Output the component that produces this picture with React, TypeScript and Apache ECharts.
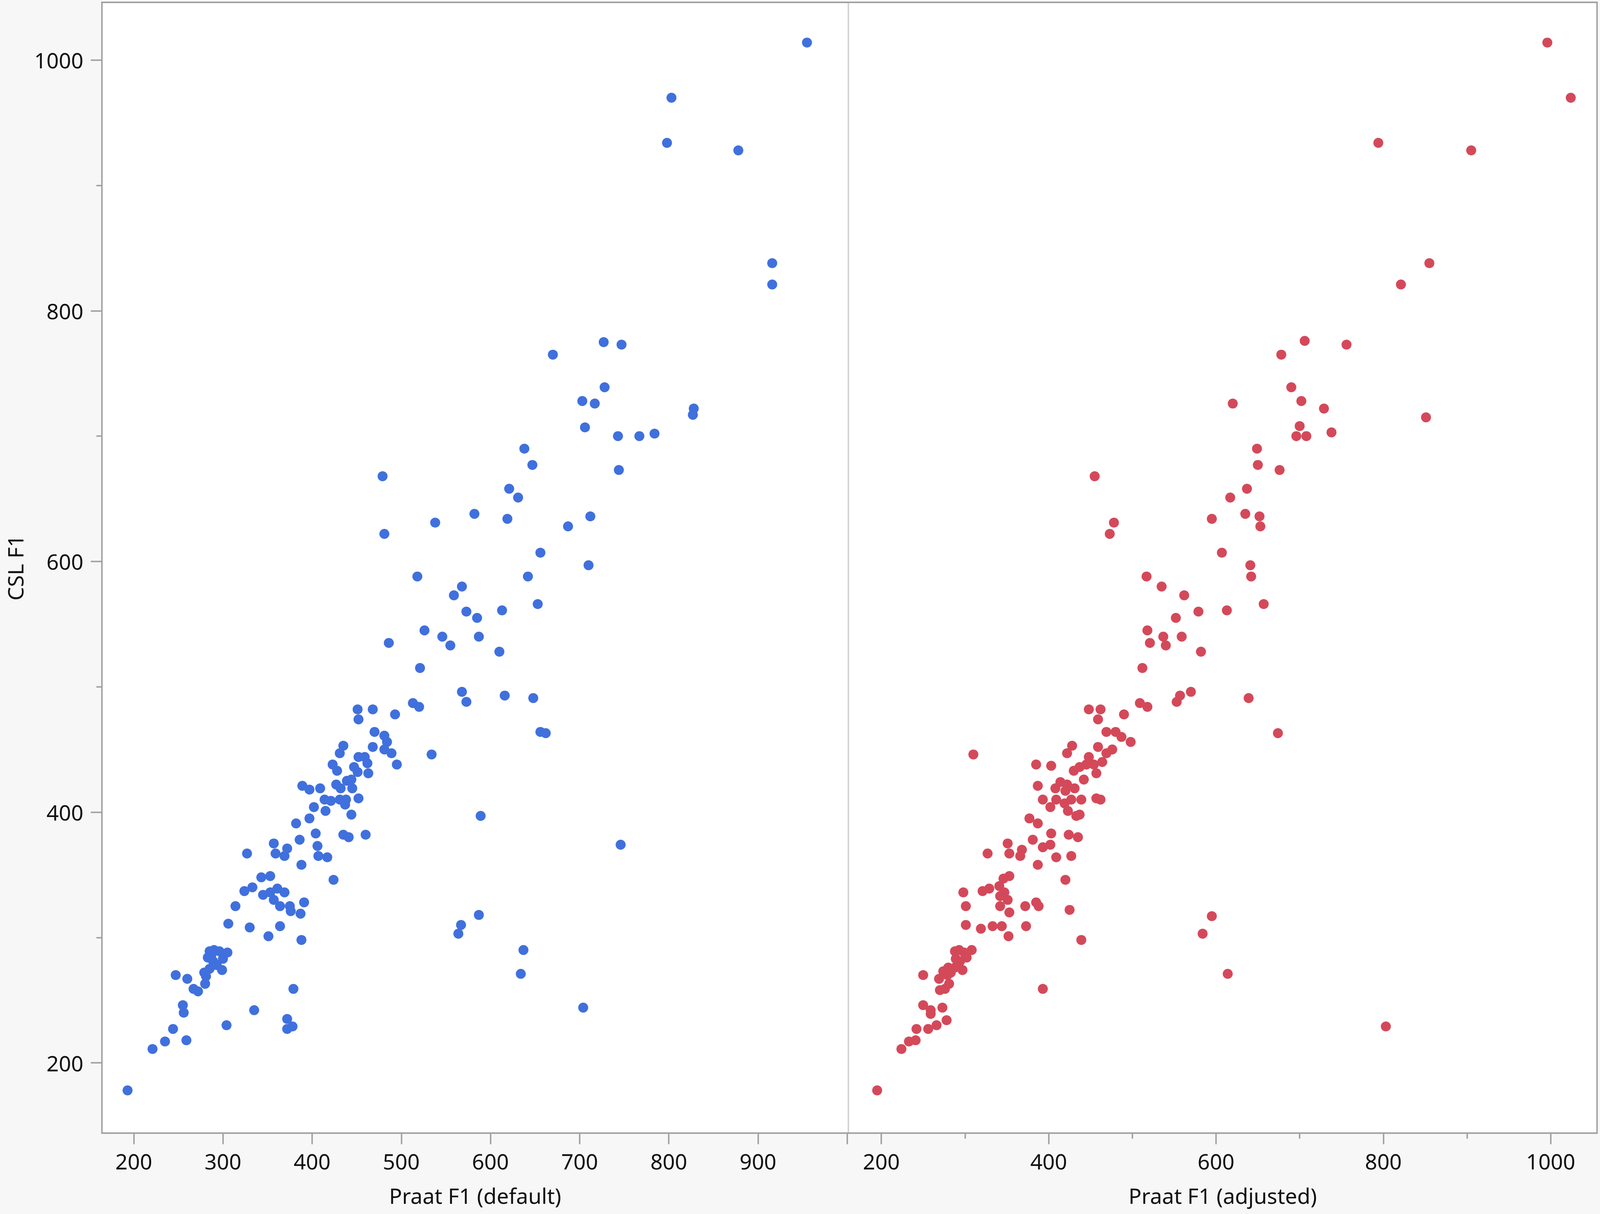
import React, { useEffect, useRef } from "react";
import * as echarts from "echarts";

// Tick values
const LEFT_X_LABELS = [200, 300, 400, 500, 600, 700, 800, 900];
const LEFT_X_TICKS = [200, 300, 400, 500, 600, 700, 800, 900, 1000];
const RIGHT_X_LABELS = [200, 400, 600, 800, 1000];
const RIGHT_X_MINOR = [300, 500, 700, 900];
const Y_LABELS = [200, 400, 600, 800, 1000];
const Y_MINOR = [300, 500, 700, 900];

// [Praat F1 (default), CSL F1]
const defaultPoints: [number, number][] = [
  [955, 1014], [803, 970], [798, 934], [878, 928], [916, 838], [916, 821], [747, 773], [727, 775], [670, 765],
  [728, 739], [703, 728], [717, 726], [828, 722], [827, 717], [706, 707],
  [743, 700], [767, 700], [784, 702], [638, 690], [647, 677], [744, 673], [479, 668], [621, 658], [631, 651],
  [582, 638], [619, 634], [538, 631], [481, 622], [687, 628], [712, 636], [656, 607], [710, 597], [642, 588],
  [518, 588], [568, 580], [559, 573], [573, 560], [585, 555], [613, 561], [653, 566], [526, 545], [546, 540],
  [555, 533], [587, 540], [610, 528], [486, 535], [521, 515], [568, 496], [573, 488], [616, 493], [648, 491],
  [513, 487], [520, 484], [468, 482], [493, 478], [656, 464], [662, 463], [470, 464], [481, 461], [484, 456],
  [468, 452], [481, 450], [489, 447], [534, 446], [495, 438],
  [589, 397], [746, 374], [587, 318], [567, 310], [564, 303], [637, 290], [634, 271], [704, 244],
  [193, 178], [221, 211], [235, 217], [244, 227], [259, 218], [256, 240], [255, 246], [304, 230], [247, 270],
  [260, 267], [267, 259], [272, 257], [280, 263], [279, 272],
  [285, 289], [290, 290], [296, 289], [300, 283], [305, 288], [283, 284], [289, 281], [293, 278], [285, 275],
  [281, 269], [299, 274], [287, 286],
  [335, 242], [379, 259], [372, 235], [378, 229], [372, 227], [306, 311], [330, 308], [351, 301], [364, 309],
  [388, 298], [314, 325], [324, 337], [333, 340], [343, 348], [353, 349], [345, 334], [353, 336], [361, 339],
  [369, 336], [357, 330], [364, 325], [375, 325], [376, 321], [387, 319], [391, 328], [327, 367], [357, 375],
  [359, 367], [369, 365], [372, 371], [388, 358], [424, 346], [382, 391], [386, 378], [397, 395], [404, 383],
  [406, 373], [407, 365], [417, 364], [389, 421], [397, 418], [409, 419], [402, 404], [414, 410], [415, 401],
  [421, 409], [431, 410], [438, 410], [437, 406], [444, 398], [452, 411], [435, 382], [441, 380], [460, 382],
  [427, 422], [432, 419], [439, 425], [444, 426], [445, 419], [423, 438], [428, 433], [431, 447], [435, 453],
  [447, 436], [452, 444], [459, 444], [462, 439], [451, 432], [463, 431], [451, 482], [452, 474],
];

// [Praat F1 (adjusted), CSL F1]
const adjustedPoints: [number, number][] = [
  [996, 1014], [1024, 970], [794, 934], [905, 928], [855, 838], [821, 821], [851, 715],
  [706, 776], [756, 773], [678, 765], [690, 739], [702, 728], [729, 722], [620, 726], [700, 708], [696, 700],
  [708, 700], [738, 703], [649, 690], [650, 677], [676, 673], [637, 658], [617, 651], [635, 638], [652, 636],
  [653, 628], [595, 634], [455, 668], [478, 631], [473, 622], [607, 607], [641, 597], [642, 588], [517, 588],
  [535, 580], [562, 573], [579, 560], [613, 561], [657, 566], [552, 555], [518, 545], [537, 540], [559, 540],
  [521, 535], [540, 533], [582, 528], [512, 515], [570, 496], [557, 493], [553, 488], [639, 491], [509, 487],
  [518, 484], [674, 463],
  [595, 317], [584, 303], [614, 271], [803, 229],
  [195, 178], [224, 211], [233, 217], [241, 218], [242, 227], [256, 227], [266, 230], [278, 234], [250, 246],
  [259, 242], [259, 239], [273, 244], [250, 270], [269, 267], [270, 258], [276, 259], [281, 263], [274, 273],
  [280, 276], [279, 270], [283, 272],
  [288, 289], [293, 290], [299, 288], [302, 284], [308, 290], [289, 283], [294, 281], [291, 278], [297, 274],
  [288, 276],
  [393, 259], [301, 310], [319, 307], [333, 309], [344, 309], [352, 301], [373, 309], [439, 298], [301, 325],
  [298, 336], [321, 337], [329, 339], [341, 341], [347, 336], [342, 333], [351, 330], [342, 325], [353, 320],
  [372, 325], [385, 328], [388, 325], [425, 322], [346, 347], [353, 349], [420, 346], [327, 367], [351, 375],
  [353, 367], [366, 365], [368, 370], [387, 358], [409, 364], [427, 365], [381, 378], [393, 372], [402, 374],
  [377, 395], [387, 391], [403, 383], [424, 382], [435, 380], [433, 397], [437, 398], [393, 410], [402, 404],
  [409, 410], [419, 407], [427, 410], [439, 410], [423, 401], [457, 411], [462, 410], [387, 421], [408, 419],
  [414, 424], [422, 422], [431, 419], [420, 417], [385, 438], [403, 437], [430, 433], [437, 436], [442, 426],
  [448, 444], [457, 431], [464, 440], [454, 438], [445, 438], [428, 453], [422, 447], [459, 452], [469, 447],
  [476, 450], [498, 456], [469, 464], [480, 464], [487, 460], [448, 482], [462, 482], [459, 474], [490, 478],
  [310, 446],
];

const FONT = "Noto Sans";
const AXIS_GRAY = "#a2a2a2";
const TEXT = "#111111";
const BLUE = "#4070dd";
const RED = "#d4495a";

const plain = (v: number) => String(v);

export default function App() {
  const ref = useRef<HTMLDivElement>(null);

  useEffect(() => {
    document.body.style.margin = "0";
    const el = ref.current;
    if (!el) return;
    const W = el.clientWidth || 4317;
    const H = el.clientHeight || 3107;
    const sx = W / 4317;
    const sy = H / 3107;
    const k = Math.min(sx, sy);

    const chart = echarts.init(el, undefined, { renderer: "svg" });

    const X = (v: number) => v * sx;
    const Y = (v: number) => v * sy;

    const labelStyle = { color: TEXT, fontSize: 58 * k, fontFamily: FONT };
    const tickStyle = { color: AXIS_GRAY, width: 4 * k };

    const left0 = X(275), div = X(2289), right0 = X(4309);
    const top0 = Y(6), bottom0 = Y(2900);

    chart.setOption({
      animation: false,
      backgroundColor: "#f7f7f7",
      textStyle: { fontFamily: FONT },
      grid: [
        { left: left0, top: top0, width: div - left0, height: bottom0 - top0, show: true, backgroundColor: "#ffffff", borderWidth: 0 },
        { left: div, top: top0, width: right0 - div, height: bottom0 - top0, show: true, backgroundColor: "#ffffff", borderWidth: 0 },
      ],
      xAxis: [
        {
          gridIndex: 0, type: "value", position: "bottom", min: 164.25, max: 1001.4,
          axisLine: { show: false }, splitLine: { show: false },
          axisTick: { show: true, length: 30 * k, lineStyle: tickStyle, customValues: LEFT_X_TICKS },
          axisLabel: { ...labelStyle, margin: 46 * k, formatter: plain, customValues: LEFT_X_LABELS },
          name: "Praat F1 (default)", nameLocation: "middle", nameGap: 139 * k,
          nameTextStyle: { ...labelStyle },
        },
        {
          gridIndex: 1, type: "value", position: "bottom", min: 160.6, max: 1055.4,
          axisLine: { show: false }, splitLine: { show: false },
          axisTick: { show: true, length: 30 * k, lineStyle: tickStyle, customValues: RIGHT_X_LABELS },
          axisLabel: { ...labelStyle, margin: 46 * k, formatter: plain, customValues: RIGHT_X_LABELS },
          name: "Praat F1 (adjusted)", nameLocation: "middle", nameGap: 139 * k,
          nameTextStyle: { ...labelStyle },
        },
        {
          gridIndex: 1, type: "value", position: "bottom", offset: 0, min: 160.6, max: 1055.4,
          axisLine: { show: false }, splitLine: { show: false },
          axisTick: { show: true, length: 15 * k, lineStyle: tickStyle, customValues: RIGHT_X_MINOR },
          axisLabel: { show: false },
        },
      ],
      yAxis: [
        {
          gridIndex: 0, type: "value", position: "left", min: 143.9, max: 1046.1,
          axisLine: { show: false }, splitLine: { show: false },
          axisTick: { show: true, length: 30 * k, lineStyle: tickStyle, customValues: Y_LABELS },
          axisLabel: { ...labelStyle, margin: 50 * k, formatter: plain, customValues: Y_LABELS },
          name: "CSL F1", nameLocation: "middle", nameGap: 205 * k, nameRotate: 90,
          nameTextStyle: { ...labelStyle },
        },
        {
          gridIndex: 0, type: "value", position: "left", offset: 0, min: 143.9, max: 1046.1,
          axisLine: { show: false }, splitLine: { show: false },
          axisTick: { show: true, length: 15 * k, lineStyle: tickStyle, customValues: Y_MINOR },
          axisLabel: { show: false },
        },
        {
          gridIndex: 1, type: "value", min: 143.9, max: 1046.1, show: false,
        },
      ],
      series: [
        {
          type: "scatter", xAxisIndex: 0, yAxisIndex: 0, data: defaultPoints,
          symbolSize: 27 * k, itemStyle: { color: BLUE, opacity: 1 },
        },
        {
          type: "scatter", xAxisIndex: 1, yAxisIndex: 2, data: adjustedPoints,
          symbolSize: 27 * k, itemStyle: { color: RED, opacity: 1 },
        },
      ],
      graphic: [
        {
          type: "line", z: 100, silent: true,
          shape: { x1: div, y1: top0, x2: div, y2: bottom0 },
          style: { stroke: "#d2d2d2", lineWidth: 4 * k },
        },
        {
          type: "rect", z: 101, silent: true,
          shape: { x: left0, y: top0, width: right0 - left0, height: bottom0 - top0 },
          style: { fill: "none", stroke: AXIS_GRAY, lineWidth: 4 * k },
        },
      ],
    });

    return () => chart.dispose();
  }, []);

  return (
    <div
      ref={ref}
      style={{ position: "fixed", left: 0, top: 0, width: "100vw", height: "100vh" }}
    />
  );
}
